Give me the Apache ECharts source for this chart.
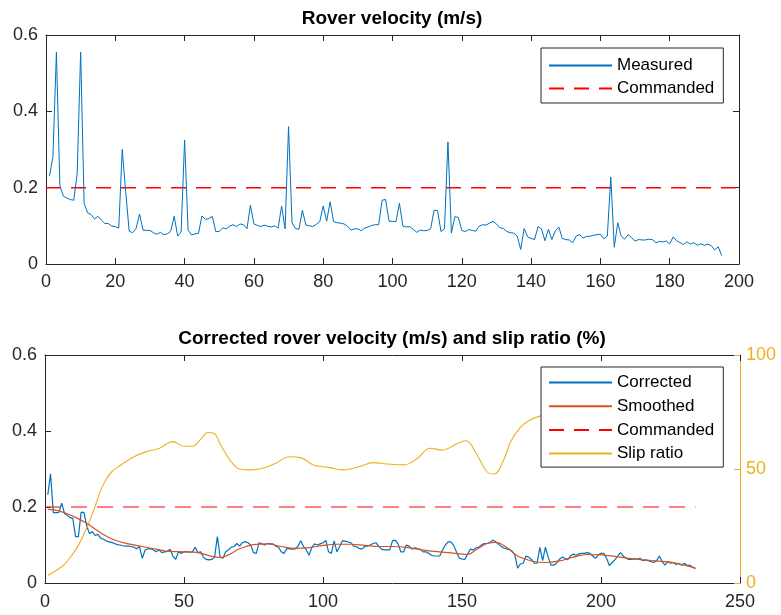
<!DOCTYPE html>
<html>
<head>
<meta charset="utf-8">
<script src="https://cdn.jsdelivr.net/npm/echarts@6/dist/echarts.min.js"></script>
<style>
  html, body { margin: 0; padding: 0; background: #ffffff; }
  #chart { width: 781px; height: 615px; }
</style>
</head>
<body>
<div id="chart"></div>
<script>
// ---- Rover velocity, one sample per step (steps 1..195) ----
const measuredVelocity = [
  0.230, 0.280, 0.555, 0.205, 0.178, 0.173, 0.169, 0.167, 0.237, 0.555,
  0.159, 0.134, 0.130, 0.118, 0.125, 0.115, 0.106, 0.106, 0.099, 0.098,
  0.094, 0.300, 0.190, 0.086, 0.082, 0.093, 0.131, 0.089, 0.088, 0.088,
  0.082, 0.078, 0.083, 0.077, 0.079, 0.086, 0.125, 0.073, 0.084, 0.325,
  0.089, 0.076, 0.079, 0.080, 0.126, 0.117, 0.119, 0.125, 0.085, 0.085,
  0.095, 0.092, 0.099, 0.103, 0.098, 0.105, 0.103, 0.092, 0.154, 0.105,
  0.101, 0.098, 0.102, 0.099, 0.097, 0.100, 0.094, 0.152, 0.092, 0.360,
  0.108, 0.093, 0.091, 0.141, 0.102, 0.100, 0.098, 0.104, 0.111, 0.152,
  0.112, 0.163, 0.111, 0.108, 0.107, 0.105, 0.099, 0.089, 0.092, 0.092,
  0.087, 0.094, 0.097, 0.101, 0.103, 0.103, 0.167, 0.169, 0.112, 0.112,
  0.111, 0.159, 0.099, 0.097, 0.098, 0.091, 0.083, 0.089, 0.087, 0.088,
  0.092, 0.141, 0.140, 0.085, 0.092, 0.320, 0.081, 0.124, 0.122, 0.088,
  0.085, 0.090, 0.088, 0.086, 0.099, 0.103, 0.102, 0.107, 0.112, 0.105,
  0.095, 0.093, 0.085, 0.082, 0.081, 0.073, 0.038, 0.093, 0.071, 0.067,
  0.064, 0.098, 0.092, 0.061, 0.091, 0.064, 0.087, 0.097, 0.067, 0.064,
  0.063, 0.056, 0.073, 0.077, 0.068, 0.072, 0.073, 0.075, 0.077, 0.078,
  0.066, 0.073, 0.228, 0.044, 0.108, 0.073, 0.065, 0.077, 0.069, 0.060,
  0.064, 0.063, 0.063, 0.065, 0.064, 0.056, 0.059, 0.058, 0.060, 0.053,
  0.071, 0.061, 0.056, 0.051, 0.058, 0.052, 0.056, 0.049, 0.053, 0.049,
  0.052, 0.048, 0.037, 0.045, 0.022
];

// Commanded speed reference line
const commandedSpeed = 0.2;
const commandedTopX = [0, 200];
const commandedBottomX = [0, 234];

// ---- Corrected velocity, one sample per step (steps 1..234) ----
const correctedVelocity = [
  0.232, 0.287, 0.185, 0.185, 0.186, 0.210, 0.183, 0.178, 0.172, 0.170,
  0.122, 0.122, 0.186, 0.186, 0.150, 0.130, 0.135, 0.125, 0.128, 0.118,
  0.115, 0.111, 0.108, 0.107, 0.104, 0.101, 0.100, 0.098, 0.097, 0.097,
  0.096, 0.094, 0.090, 0.096, 0.065, 0.087, 0.090, 0.090, 0.087, 0.082,
  0.087, 0.080, 0.082, 0.083, 0.089, 0.071, 0.062, 0.082, 0.078, 0.082,
  0.082, 0.081, 0.082, 0.094, 0.080, 0.082, 0.068, 0.062, 0.061, 0.062,
  0.068, 0.122, 0.068, 0.065, 0.082, 0.087, 0.094, 0.096, 0.104, 0.097,
  0.106, 0.109, 0.106, 0.100, 0.080, 0.078, 0.106, 0.103, 0.100, 0.104,
  0.103, 0.103, 0.097, 0.094, 0.082, 0.078, 0.091, 0.090, 0.089, 0.090,
  0.097, 0.111, 0.096, 0.087, 0.073, 0.094, 0.103, 0.100, 0.103, 0.106,
  0.112, 0.082, 0.078, 0.111, 0.082, 0.096, 0.111, 0.110, 0.108, 0.106,
  0.097, 0.096, 0.091, 0.089, 0.096, 0.097, 0.100, 0.104, 0.106, 0.097,
  0.089, 0.087, 0.087, 0.087, 0.111, 0.113, 0.103, 0.082, 0.082, 0.100,
  0.097, 0.089, 0.093, 0.090, 0.089, 0.082, 0.082, 0.078, 0.073, 0.071,
  0.071, 0.071, 0.087, 0.100, 0.108, 0.108, 0.099, 0.082, 0.066, 0.063,
  0.062, 0.076, 0.089, 0.087, 0.092, 0.094, 0.100, 0.104, 0.104, 0.106,
  0.113, 0.109, 0.103, 0.097, 0.092, 0.090, 0.088, 0.084, 0.074, 0.039,
  0.050, 0.052, 0.071, 0.068, 0.062, 0.052, 0.052, 0.094, 0.059, 0.094,
  0.068, 0.047, 0.047, 0.052, 0.062, 0.068, 0.065, 0.061, 0.071, 0.076,
  0.073, 0.076, 0.078, 0.078, 0.080, 0.078, 0.071, 0.065, 0.074, 0.078,
  0.078, 0.065, 0.046, 0.054, 0.061, 0.071, 0.080, 0.071, 0.065, 0.062,
  0.062, 0.064, 0.062, 0.065, 0.059, 0.061, 0.059, 0.056, 0.054, 0.059,
  0.071, 0.056, 0.047, 0.056, 0.052, 0.054, 0.049, 0.052, 0.047, 0.052,
  0.046, 0.047, 0.041, 0.038
];

// Smoothed velocity (knots along the step axis)
const smoothedSteps = [
  1, 5, 10, 15, 20, 25, 30, 35, 40, 45, 50, 55, 60, 63, 66, 70, 75, 80, 85, 90,
  95, 100, 105, 110, 115, 120, 125, 130, 135, 140, 145, 150, 152, 155, 159, 162,
  166, 170, 175, 180, 185, 190, 195, 200, 205, 210, 215, 220, 225, 230, 234
];
const smoothedVelocity = [
  0.194, 0.190, 0.176, 0.157, 0.132, 0.113, 0.103, 0.096, 0.089, 0.083,
  0.082, 0.080, 0.070, 0.067, 0.074, 0.090, 0.101, 0.103, 0.096, 0.091,
  0.093, 0.099, 0.102, 0.102, 0.099, 0.096, 0.096, 0.094, 0.088, 0.083,
  0.080, 0.076, 0.075, 0.087, 0.104, 0.107, 0.094, 0.071, 0.058, 0.054,
  0.058, 0.068, 0.075, 0.074, 0.070, 0.065, 0.061, 0.058, 0.055, 0.047,
  0.039
];

// Slip ratio in percent (knots along the step axis)
const slipSteps = [
  1, 4, 7, 10, 12, 14, 16, 18, 20, 22, 24, 27, 32, 37, 41, 46, 50, 53, 56, 58.5,
  61, 63, 66.5, 70, 74, 78, 83, 88, 92, 96.5, 102, 107, 113, 118, 123, 129, 134,
  138.5, 143, 148, 151.5, 155, 159, 161.5, 165, 167.5, 171, 174.5, 178, 185, 195,
  210, 225, 234
];
const slipRatio = [
  3.3, 5.5, 8.2, 12.8, 16.5, 21.5, 27, 33.5, 40.5, 45.5, 48.8, 51.5, 55.4, 57.8,
  59, 62, 60, 60, 63, 66, 65.5, 61, 54, 50, 49.6, 50.2, 52.5, 55.4, 55, 51.8,
  50.7, 49.6, 51, 52.8, 52.2, 51.8, 54.7, 59.1, 58.3, 61, 62.4, 57, 48.8, 47.8,
  54, 62, 68.3, 71.5, 73.2, 75, 76, 77, 78, 78
];

// Axis ticks
const topXTicks = { min: 0, max: 200, interval: 20 };
const bottomXTicks = { min: 0, max: 250, interval: 50 };
const velocityTicks = { min: 0, max: 0.6, interval: 0.2 };
const slipTicks = { min: 0, max: 100, interval: 50 };

const FONT = '"Liberation Sans", Arial, Helvetica, sans-serif';
const AXIS_COLOR = '#262626';
const C_BLUE = '#0072BD';
const C_ORANGE = '#D95319';
const C_YELLOW = '#EDB120';
const C_RED = '#FF0000';

const byStep = arr => arr.map((v, i) => [i + 1, v]);
const pairs = (xs, ys) => xs.map((x, i) => [x, ys[i]]);

function axis(base, extra) {
  const color = extra.color || AXIS_COLOR;
  return Object.assign({
    type: 'value',
    min: base.min, max: base.max, interval: base.interval,
    axisLine: { show: true, onZero: false, lineStyle: { color: color, width: 1 } },
    axisTick: { show: true, inside: true, length: 6, lineStyle: { color: color, width: 1 } },
    axisLabel: {
      show: extra.labels !== false, color: color, fontSize: 18, fontFamily: FONT,
      margin: extra.margin || 8, showMinLabel: true, showMaxLabel: true
    },
    splitLine: { show: false }
  }, extra.opts || {});
}

// Legend samples are plain line strokes (no marker)
const legendCommon = {
  orient: 'vertical',
  backgroundColor: '#ffffff',
  borderColor: AXIS_COLOR,
  borderWidth: 1,
  itemWidth: 63,
  itemHeight: 14,
  itemStyle: { opacity: 0 },
  textStyle: { fontSize: 17, fontFamily: FONT, color: '#000000' }
};

const chart = echarts.init(document.getElementById('chart'), null, { renderer: 'canvas' });

chart.setOption({
  animation: false,
  backgroundColor: '#ffffff',
  title: [
    {
      text: 'Rover velocity (m/s)', left: 392, top: 9, textAlign: 'center', padding: 0,
      textStyle: { fontSize: 19, fontWeight: 'bold', fontFamily: FONT, color: '#000000' }
    },
    {
      text: 'Corrected rover velocity (m/s) and slip ratio (%)', left: 392, top: 329,
      textAlign: 'center', padding: 0,
      textStyle: { fontSize: 19, fontWeight: 'bold', fontFamily: FONT, color: '#000000' }
    }
  ],
  grid: [
    { left: 46, top: 35, width: 693, height: 229, containLabel: false, outerBoundsMode: 'none' },
    { left: 45, top: 355, width: 695, height: 228, containLabel: false, outerBoundsMode: 'none' }
  ],
  xAxis: [
    axis(topXTicks, { opts: { gridIndex: 0, position: 'bottom' }, margin: 9 }),
    axis(topXTicks, { opts: { gridIndex: 0, position: 'top' }, labels: false }),
    axis(bottomXTicks, { opts: { gridIndex: 1, position: 'bottom' }, margin: 10 }),
    axis(bottomXTicks, { opts: { gridIndex: 1, position: 'top' }, labels: false })
  ],
  yAxis: [
    axis(velocityTicks, { opts: { gridIndex: 0, position: 'left' } }),
    axis(velocityTicks, { opts: { gridIndex: 0, position: 'right' }, labels: false }),
    axis(velocityTicks, { opts: { gridIndex: 1, position: 'left' } }),
    axis(slipTicks, { opts: { gridIndex: 1, position: 'right' }, color: C_YELLOW, margin: 6 })
  ],
  legend: [
    Object.assign({}, legendCommon, {
      left: 541, top: 48, padding: [9, 9, 6, 7], itemGap: 6,
      data: ['Measured', 'Commanded']
    }),
    Object.assign({}, legendCommon, {
      left: 541, top: 367, padding: [7, 9, 5, 7], itemGap: 6.7,
      data: ['Corrected', 'Smoothed', 'Commanded', 'Slip ratio']
    })
  ],
  series: [
    {
      name: 'Measured', type: 'line', xAxisIndex: 0, yAxisIndex: 0,
      data: byStep(measuredVelocity), symbol: 'none', showSymbol: false,
      lineStyle: { color: C_BLUE, width: 1 }, itemStyle: { color: C_BLUE }, z: 3
    },
    {
      name: 'Commanded', type: 'line', xAxisIndex: 0, yAxisIndex: 0,
      data: commandedTopX.map(x => [x, commandedSpeed]), symbol: 'none', showSymbol: false,
      lineStyle: { color: C_RED, width: 1.5, type: [15, 10] }, itemStyle: { color: C_RED }, z: 2
    },
    {
      name: 'Commanded', type: 'line', xAxisIndex: 2, yAxisIndex: 2,
      data: commandedBottomX.map(x => [x, commandedSpeed]), symbol: 'none', showSymbol: false,
      lineStyle: { color: 'rgba(255,0,0,0.5)', width: 2, type: [16, 10] }, itemStyle: { color: C_RED }, z: 2
    },
    {
      name: 'Corrected', type: 'line', xAxisIndex: 2, yAxisIndex: 2,
      data: byStep(correctedVelocity), symbol: 'none', showSymbol: false,
      lineStyle: { color: C_BLUE, width: 1.2 }, itemStyle: { color: C_BLUE }, z: 3
    },
    {
      name: 'Smoothed', type: 'line', xAxisIndex: 2, yAxisIndex: 2,
      data: pairs(smoothedSteps, smoothedVelocity), symbol: 'none', showSymbol: false, smooth: 0.4,
      lineStyle: { color: C_ORANGE, width: 1.2 }, itemStyle: { color: C_ORANGE }, z: 4
    },
    {
      name: 'Slip ratio', type: 'line', xAxisIndex: 2, yAxisIndex: 3,
      data: pairs(slipSteps, slipRatio), symbol: 'none', showSymbol: false, smooth: 0.4,
      lineStyle: { color: C_YELLOW, width: 1.1 }, itemStyle: { color: C_YELLOW }, z: 3
    }
  ]
});
</script>
</body>
</html>
